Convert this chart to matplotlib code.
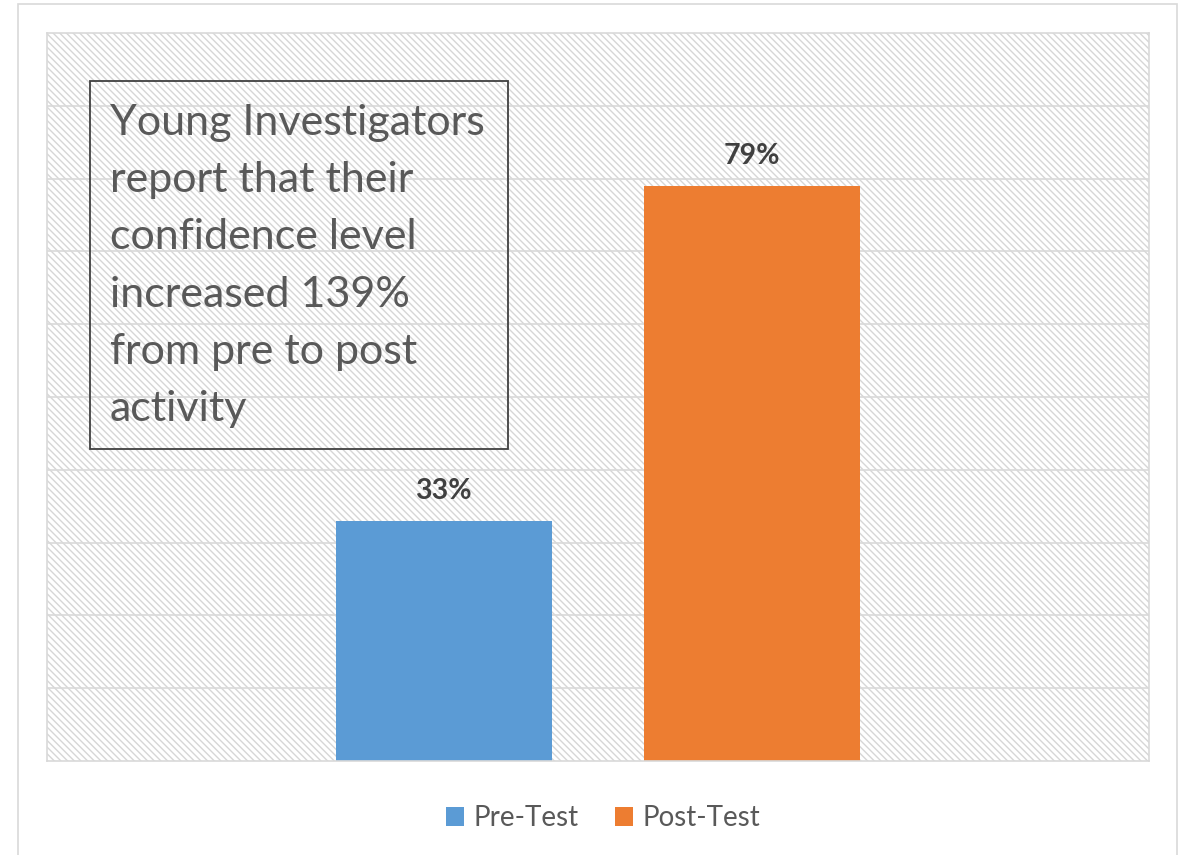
import matplotlib.pyplot as plt
from matplotlib.patches import Rectangle

series = ["Pre-Test", "Post-Test"]
values = [33, 79]
colors = ["#5b9bd5", "#ed7d31"]
note = "Young Investigators\nreport that their\nconfidence level\nincreased 139%\nfrom pre to post\nactivity"

plt.rcParams['font.family'] = ['Lato', 'DejaVu Sans']
plt.rcParams['hatch.color'] = '#d6d6d6'
plt.rcParams['hatch.linewidth'] = 1.0

W, H = 1181, 855
fig = plt.figure(figsize=(W / 100, H / 100), dpi=100)

# outer chart frame
fig.patches.append(Rectangle((18 / W, -0.01), (1177 - 18) / W, 1 - 4 / H + 0.01,
                             transform=fig.transFigure, fill=False,
                             edgecolor='#d9d9d9', linewidth=1.2))

ax = fig.add_axes([47 / W, 1 - 761 / H, (1149 - 47) / W, (761 - 33) / H])
ax.set_xlim(0, 1)
ax.set_ylim(0, 100)

# hatched plot background
ax.add_patch(Rectangle((0, 0), 1, 1, transform=ax.transAxes, facecolor='white',
                       hatch='\\\\\\\\\\', edgecolor='#d6d6d6', linewidth=0, zorder=0))

for y in range(10, 100, 10):
    ax.axhline(y, color='#d9d9d9', linewidth=1.2, zorder=1)

width = 0.196
offsets = [-0.14, 0.14]
for name, v, c, off in zip(series, values, colors, offsets):
    ax.bar(0.5 + off, v, width=width, color=c, label=name, zorder=2)
    ax.text(0.5 + off, v + 2.3, f"{v}%", ha='center', va='bottom',
            fontsize=20.5, fontweight='bold', color='#404040')

for s in ax.spines.values():
    s.set_color('#d9d9d9')
    s.set_linewidth(1.2)
ax.set_xticks([])
ax.set_yticks([])

# note box
fig.patches.append(Rectangle((90 / W, 1 - 449 / H), (508 - 90) / W, (449 - 81) / H,
                             transform=fig.transFigure, fill=False,
                             edgecolor='#404040', linewidth=1.3, zorder=4))
fig.text(110 / W, 1 - 104 / H, note, ha='left', va='top',
         fontsize=31, color='#595959', linespacing=1.62, zorder=5)

leg = fig.legend(loc='center', bbox_to_anchor=(603 / W, 1 - 818 / H), ncol=2,
                 frameon=False, fontsize=20, handlelength=0.65, handleheight=0.65,
                 handletextpad=0.35, columnspacing=1.3)
for t in leg.get_texts():
    t.set_color('#595959')

plt.savefig("out.png", dpi=100)
